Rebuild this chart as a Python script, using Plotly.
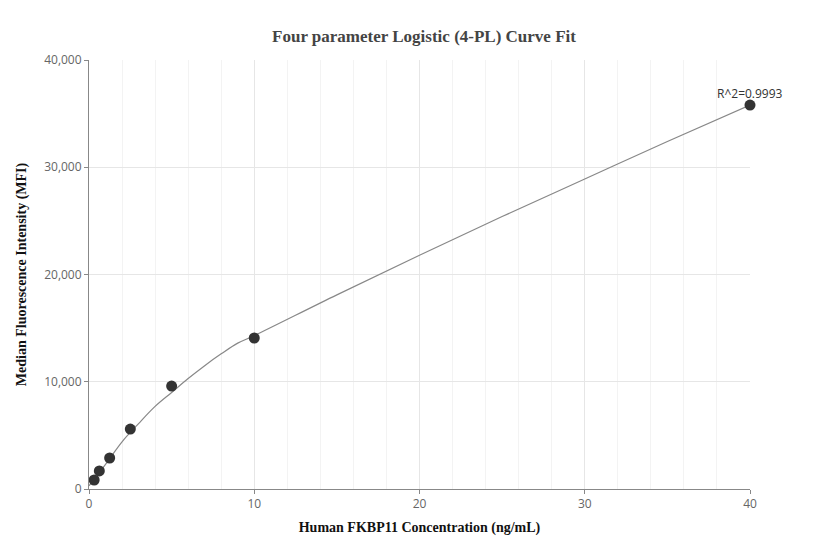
import plotly.graph_objects as go

conc = [0.3125, 0.625, 1.25, 2.5, 5, 10, 40]
mfi = [840, 1680, 2890, 5590, 9600, 14080, 35800]

fit_x = [0, 1, 2, 3, 4, 5, 6, 7, 8, 9, 10, 15, 20, 25, 30, 35, 40]
fit_y = [300, 2300, 4400, 6100, 7700, 9000, 10300, 11500, 12600, 13600, 14300,
         18100, 21800, 25400, 28900, 32400, 35800]

r2_text = "R^2=0.9993"

fig = go.Figure()
fig.add_trace(go.Scatter(x=fit_x, y=fit_y, mode="lines", line=dict(color="#888888", width=1.2, shape="spline"),
                         hoverinfo="skip", cliponaxis=False))
fig.add_trace(go.Scatter(x=conc, y=mfi, mode="markers", marker=dict(color="#333333", size=11), cliponaxis=False))
fig.add_annotation(x=conc[-1], y=mfi[-1], text=r2_text, showarrow=False, yshift=12,
                   font=dict(family="Open Sans", size=12, color="#333"))

fig.update_layout(
    width=832, height=560, showlegend=False,
    paper_bgcolor="white", plot_bgcolor="white",
    margin=dict(l=76, r=90, t=52, b=79),
    title=dict(text="<b>Four parameter Logistic (4-PL) Curve Fit</b>", x=0.5, y=0.96,
               font=dict(family="Times New Roman, Liberation Serif", size=17, color="#444")),
    font=dict(family="Open Sans", color="#666", size=12),
)
fig.update_xaxes(range=[0, 40], tickvals=[0, 10, 20, 30, 40], showline=True, linecolor="#888",
                 gridcolor="#e6e6e6", zeroline=False, ticks="outside", ticklen=4, tickcolor="#888",
                 minor=dict(dtick=2, showgrid=True, gridcolor="#f3f3f3"),
                 title=dict(text="<b>Human FKBP11 Concentration (ng/mL)</b>", standoff=10,
                            font=dict(family="Times New Roman, Liberation Serif", size=14, color="#111")))
fig.update_yaxes(range=[0, 40000], dtick=10000, tickformat=",", showline=True, linecolor="#888",
                 gridcolor="#e6e6e6", zeroline=False, ticks="outside", ticklen=4, tickcolor="#888",
                 title=dict(text="<b>Median Fluorescence Intensity (MFI)</b>", standoff=14,
                            font=dict(family="Times New Roman, Liberation Serif", size=14, color="#111")))

fig.write_html("out.html")
